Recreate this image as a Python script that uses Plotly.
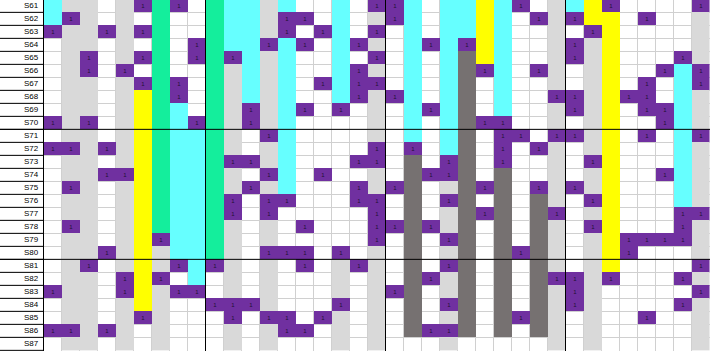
import plotly.graph_objects as go

# Row labels (top to bottom)
row_labels = ["S61", "S62", "S63", "S64", "S65", "S66", "S67", "S68", "S69", "S70",
              "S71", "S72", "S73", "S74", "S75", "S76", "S77", "S78", "S79", "S80",
              "S81", "S82", "S83", "S84", "S85", "S86", "S87"]

# Cell codes: '.' empty, 'g' light grey, 'P' purple (value 1), 'c' cyan,
# 'G' green, 'y' yellow, 'd' dark grey
cell_rows = [
    "cgg.gPGP.G" "ccgc..c.PP" "c.ccycP.gc" "yP....P",
    "cPg.g.G..G" "ccgPP.c.gP" "c.ccyc.PgP" "yy.P..g",
    "PggPgPG..G" "ccgP.Pc.P." "c.ccyc..g." "Py....g",
    ".gg.g.G.PG" "ccPcP.cPg." "cPcPyc..gP" "gy....g",
    ".gP.gPG.PG" "Pcgc..c.P." "c.cdyc..gP" "gy...Pg",
    ".gP.P.G..G" "gcgc..cPg." "c.cdPc.Pg." "gy..PcP",
    ".gg.gPGP.G" "gcgc.PcPP." "c.cd.c..g." "gy.P.cP",
    ".gg.gyGP.G" "gcgc..cPgP" "c.cd.c..PP" "gyPP.cg",
    ".gg.gyGc.G" "gPgcP.P.g." "cPcd.c..gP" "gy.PPcg",
    "PgP.gyGcPG" "gPgc....g." "c.cdPP..g." "gy..Pcg",
    ".gg.gyGccG" "g.Pc....g." "c.cd.PP.PP" "gy.P.cP",
    "PPgPgyGccG" "g.gc....P." "P.cd.P.Pg." "gy...cg",
    ".gg.gyGccG" "PPgc...PP." "d.Pd.P..g." "Py...cg",
    ".ggPPyGccG" "g.Pc.P..g." "dPPd.d..g." "gy..Pcg",
    ".Pg.gyGccG" "gPgc...PgP" "d.gdPd.PgP" "gy...cg",
    ".gg.gyGccG" "P.PP...PP." "d.Pd.d.dg." "Py...cg",
    ".gg.gyGccG" "P.P.....P." "d.gdPd.dP." "gy...PP",
    ".Pg.gyGccG" "g.g.P...PP" "dPgd.d.dg." "Py...Pg",
    ".gg.gyPccG" "g.g.....P." "d.Pd.d.dg." "gyPPPPg",
    ".ggPgygccG" "g.PPP.P.g." "d.gd.dPdg." "gyP...g",
    ".gP.gygPcP" "g.g.P.gPg." "d.Pd.d.dg." "gy....P",
    ".gg.PyP.c." "g.g...g.g." "dPgd.d.dPP" "gP...Pg",
    "Pgg.PygPP." "g.g...g.gP" "d.gd.d.dgP" "g.....P",
    ".gg.gyg..P" "PPg...P.g." "d.Pd.d.dgP" "g....Pg",
    ".gg.gPg..." "P.PP.Pg.g." "d.gd.dPdg." "g..P..g",
    "PPgPg.g..." "g.gPP.g.g." "dPPd.d.dg." "g.....g",
    ".gg.g.g..." "g.g...g.g." "..g.....g." "g.....g",
]

# Group sizes separated by black lines
col_groups = [9, 10, 10, 8]
row_groups = [10, 10, 7]

code_order = ["g", "P", "c", "G", "y", "d"]
code_colors = ["#d9d9d9", "#7030a0", "#66ffff", "#14ee9c", "#ffff00", "#767171"]
cell_value_text = {"P": "1"}

nrows = len(cell_rows)
ncols = len(cell_rows[0])

z = []
txt = []
for r in cell_rows:
    z.append([code_order.index(ch) if ch in code_order else None for ch in r])
    txt.append([cell_value_text.get(ch, "") for ch in r])

n = len(code_colors)
colorscale = []
for k, col in enumerate(code_colors):
    colorscale.append([k / n, col])
    colorscale.append([(k + 1) / n, col])

fig = go.Figure()
fig.add_trace(go.Heatmap(
    z=z, x=list(range(ncols)), y=list(range(nrows)),
    colorscale=colorscale, zmin=-0.5, zmax=n - 0.5, showscale=False,
    text=txt, texttemplate="%{text}",
    textfont=dict(size=6, color="#241035", family="Liberation Sans"),
    hoverinfo="skip", xgap=0, ygap=0,
))

x_left = -2.917
x_right = 36.528
y_top = -0.45
y_bottom = 26.55

shapes = []
# label column borders
for k in range(nrows + 1):
    shapes.append(dict(type="line", x0=x_left, x1=-0.5, y0=k - 0.5, y1=k - 0.5,
                       line=dict(color="black", width=1), layer="above"))
shapes.append(dict(type="line", x0=-0.5, x1=-0.5, y0=y_top, y1=y_bottom,
                   line=dict(color="black", width=1), layer="above"))
# column group separators
acc = 0
for g in col_groups[:-1]:
    acc += g
    shapes.append(dict(type="line", x0=acc - 0.5, x1=acc - 0.5, y0=y_top, y1=y_bottom,
                       line=dict(color="black", width=1), layer="above"))
# row group separators
acc = 0
for g in row_groups[:-1]:
    acc += g
    shapes.append(dict(type="line", x0=x_left, x1=x_right, y0=acc - 0.5, y1=acc - 0.5,
                       line=dict(color="black", width=1), layer="above"))

annotations = []
for i, lab in enumerate(row_labels):
    annotations.append(dict(x=-0.72, y=i, text=lab, showarrow=False, xanchor="right",
                            yanchor="middle", borderpad=0,
                            font=dict(size=8, color="black", family="Liberation Sans")))

fig.update_layout(
    width=710, height=351, margin=dict(l=0, r=0, t=0, b=0),
    plot_bgcolor="white", paper_bgcolor="white",
    shapes=shapes, annotations=annotations, showlegend=False,
    xaxis=dict(range=[x_left, x_right], tickvals=[j - 0.5 for j in range(ncols + 1)],
               showgrid=True, gridcolor="#d0d0d0", gridwidth=1, showticklabels=False,
               ticks="", zeroline=False, showline=False, fixedrange=True),
    yaxis=dict(range=[y_bottom, y_top], tickvals=[i - 0.5 for i in range(nrows + 1)],
               showgrid=True, gridcolor="#d0d0d0", gridwidth=1, showticklabels=False,
               ticks="", zeroline=False, showline=False, fixedrange=True),
)

fig.write_html("out.html")
